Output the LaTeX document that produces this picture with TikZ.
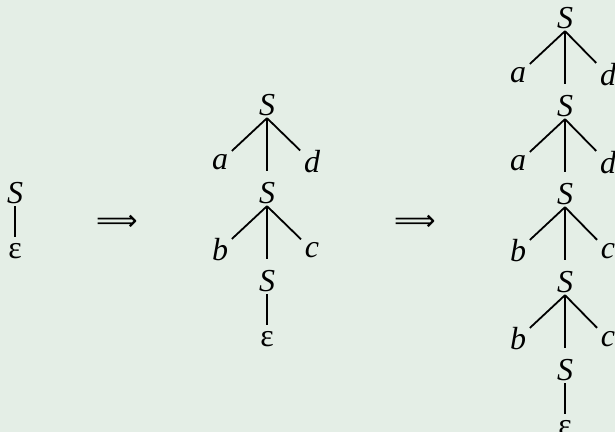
\documentclass[tikz,border=0pt]{standalone}
\usepackage{fontspec}
\setmainfont{Liberation Serif}
\newfontfamily\arrowfont{DejaVu Sans}
\usepackage{tikz}
\usetikzlibrary{positioning}
\definecolor{bgpanel}{RGB}{228,238,230}
\tikzset{
    sym/.style={inner sep=1pt, font=\fontsize{16}{18}\selectfont\itshape},
    eps/.style={inner sep=1pt, font=\fontsize{16}{18}\selectfont},
    derive/.style={inner sep=0pt, font=\arrowfont\fontsize{14.5}{16}\selectfont},
    branch/.style={line width=0.9pt, shorten >=1pt},
    trunk/.style={line width=0.9pt, shorten >=4.5pt},
    stem/.style={line width=0.9pt, shorten >=2pt}
}

\begin{document}
\begin{tikzpicture}[node distance=44pt]
    \fill [bgpanel] (0,0) rectangle (307.5pt,-216pt);
    \useasboundingbox (0,0) rectangle (307.5pt,-216pt);

    % S -> epsilon
    \node (s1) [sym] at (7.5pt,-96.5pt) {S};
    \node (e1) [eps, below of=s1, node distance=29pt] {ε};
    \draw [stem] (s1.south) -- (e1);

    \node (arr1) [derive] at (58.5pt,-111.5pt) {⟹};

    % one step: a S d, b S c
    \node (s2a) [sym] at (133.5pt,-52.5pt) {S};
    \node (a2) [sym, below of=s2a, node distance=28.5pt, xshift=-23.5pt] {a};
    \node (d2) [sym, below of=s2a, node distance=28.5pt, xshift=22.5pt] {d};
    \node (s2b) [sym, below of=s2a] {S};
    \node (b2) [sym, below of=s2b, node distance=28.5pt, xshift=-23.5pt] {b};
    \node (c2) [sym, below of=s2b, node distance=28.5pt, xshift=22.5pt] {c};
    \node (s2c) [sym, below of=s2b] {S};
    \node (e2) [eps, below of=s2c, node distance=29pt] {ε};

    \draw [branch] (s2a.south) -- (a2);
    \draw [branch] (s2a.south) -- (d2);
    \draw [trunk] (s2a.south) -- (s2b);
    \draw [branch] (s2b.south) -- (b2);
    \draw [branch] (s2b.south) -- (c2);
    \draw [trunk] (s2b.south) -- (s2c);
    \draw [stem] (s2c.south) -- (e2);

    \node (arr2) [derive] at (207.5pt,-111.5pt) {⟹};

    % two more steps
    \node (s3a) [sym] at (282.5pt,-9pt) {S};
    \node (a3a) [sym, below of=s3a, node distance=28.5pt, xshift=-23.5pt] {a};
    \node (d3a) [sym, below of=s3a, node distance=28.5pt, xshift=21.5pt] {d};
    \node (s3b) [sym, below of=s3a] {S};
    \node (a3b) [sym, below of=s3b, node distance=28.5pt, xshift=-23.5pt] {a};
    \node (d3b) [sym, below of=s3b, node distance=28.5pt, xshift=21.5pt] {d};
    \node (s3c) [sym, below of=s3b] {S};
    \node (b3c) [sym, below of=s3c, node distance=28.5pt, xshift=-23.5pt] {b};
    \node (c3c) [sym, below of=s3c, node distance=28.5pt, xshift=21.5pt] {c};
    \node (s3d) [sym, below of=s3c] {S};
    \node (b3d) [sym, below of=s3d, node distance=28.5pt, xshift=-23.5pt] {b};
    \node (c3d) [sym, below of=s3d, node distance=28.5pt, xshift=21.5pt] {c};
    \node (s3e) [sym, below of=s3d] {S};
    \node (e3) [eps, below of=s3e, node distance=29pt] {ε};

    \draw [branch] (s3a.south) -- (a3a);
    \draw [branch] (s3a.south) -- (d3a);
    \draw [trunk] (s3a.south) -- (s3b);
    \draw [branch] (s3b.south) -- (a3b);
    \draw [branch] (s3b.south) -- (d3b);
    \draw [trunk] (s3b.south) -- (s3c);
    \draw [branch] (s3c.south) -- (b3c);
    \draw [branch] (s3c.south) -- (c3c);
    \draw [trunk] (s3c.south) -- (s3d);
    \draw [branch] (s3d.south) -- (b3d);
    \draw [branch] (s3d.south) -- (c3d);
    \draw [trunk] (s3d.south) -- (s3e);
    \draw [stem] (s3e.south) -- (e3);
\end{tikzpicture}
\end{document}
